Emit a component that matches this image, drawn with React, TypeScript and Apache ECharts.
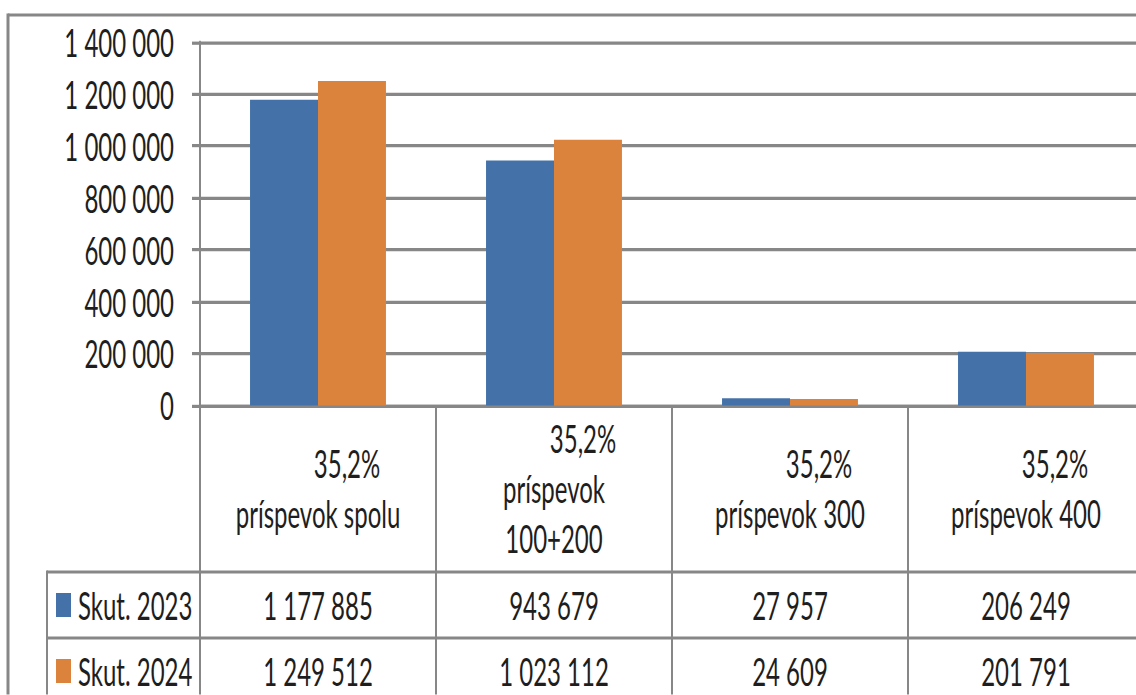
import React, { useEffect, useRef } from "react";
import * as echarts from "echarts";

const categories = ["príspevok spolu", "príspevok\n100+200", "príspevok 300", "príspevok 400"];
const rateLabel = "35,2%";
const seriesNames = ["Skut. 2023", "Skut. 2024"];
const values2023 = [1177885, 943679, 27957, 206249];
const values2024 = [1249512, 1023112, 24609, 201791];
const yMin = 0;
const yMax = 1400000;
const yInterval = 200000;

const colors = ["#4472A8", "#DB833D"];
const GREY = "#878787";
const TEXT = "#1e1e1e";
const FONT = "Lato";
const FS = 24;

const K = 1.6; // vertical stretch of the reference picture
const VIEW_W = 1136;
const W = 1160; // chart canvas is a bit wider than the view; the plot runs past the right edge
const H = 695 / K;
const ry = (v: number) => v / K;

const fmt = (n: number) => String(n).replace(/\B(?=(\d{3})+(?!\d))/g, " ");

export default function App() {
  const ref = useRef<HTMLDivElement>(null);
  useEffect(() => {
    if (!ref.current) return;
    const chart = echarts.init(ref.current, null, { renderer: "svg" });
    const gridTop = ry(42);
    const axisY = ry(406);
    const option: any = {
      animation: false,
      grid: { left: 200, right: W - 1144, top: gridTop, bottom: H - axisY },
      xAxis: {
        type: "category",
        data: categories,
        axisLine: { show: true, lineStyle: { color: GREY, width: 2 } },
        axisTick: { show: true, length: H - axisY + 20, lineStyle: { color: GREY, width: 2 } },
        splitLine: { show: false },
        axisLabel: {
          interval: 0,
          margin: ry(489) - axisY,
          verticalAlign: "middle",
          align: "center",
          formatter: (v: string) =>
            `{p|${rateLabel}}\n` + v.split("\n").map((s) => `{c|${s}}`).join("\n"),
          rich: {
            p: { fontFamily: FONT, fontSize: FS, color: TEXT, lineHeight: ry(50), padding: [0, 0, 0, 58] },
            c: { fontFamily: FONT, fontSize: FS, color: TEXT, lineHeight: ry(50) },
          },
        },
      },
      yAxis: {
        type: "value",
        min: yMin,
        max: yMax,
        interval: yInterval,
        axisLine: { show: true, lineStyle: { color: GREY, width: 2 } },
        axisTick: { show: true, length: 8, lineStyle: { color: GREY, width: 2 } },
        splitLine: { show: true, lineStyle: { color: GREY, width: 2 } },
        axisLabel: { formatter: (v: number) => fmt(v), margin: 26, fontFamily: FONT, fontSize: FS, color: TEXT },
      },
      series: [
        {
          name: seriesNames[0],
          type: "bar",
          data: values2023,
          barGap: "0%",
          barCategoryGap: "42.4%",
          itemStyle: { color: colors[0] },
        },
        {
          name: seriesNames[1],
          type: "bar",
          data: values2024,
          barGap: "0%",
          barCategoryGap: "42.4%",
          itemStyle: { color: colors[1] },
        },
      ],
    };
    chart.setOption(option);

    const xs = categories.map((_, i) => chart.convertToPixel({ xAxisIndex: 0 }, i) as number);
    const rowTop = ry(572);
    const rowMid = ry(638);
    const rowCenters = [ry(605), ry(671)];
    const rows = [values2023, values2024];
    const lineStyle = { stroke: GREY, lineWidth: 2 };
    const graphic: any[] = [
      { type: "line", shape: { x1: 8, y1: ry(15), x2: W + 20, y2: ry(15) }, style: lineStyle },
      { type: "line", shape: { x1: 8, y1: ry(15) - 1, x2: 8, y2: H + 20 }, style: { stroke: GREY, lineWidth: 3 } },
      { type: "line", shape: { x1: 47, y1: rowTop, x2: W + 20, y2: rowTop }, style: lineStyle },
      { type: "line", shape: { x1: 47, y1: rowMid, x2: W + 20, y2: rowMid }, style: lineStyle },
      { type: "line", shape: { x1: 47, y1: rowTop - 1, x2: 47, y2: H + 20 }, style: lineStyle },
    ];
    rows.forEach((vals, r) => {
      graphic.push({
        type: "rect",
        shape: { x: 56, y: rowCenters[r] - 7.5, width: 15, height: 15 },
        style: { fill: colors[r] },
      });
      graphic.push({
        type: "text",
        x: 78,
        y: rowCenters[r],
        style: {
          text: seriesNames[r],
          fontFamily: FONT,
          fontSize: FS,
          fill: TEXT,
          textAlign: "left",
          textVerticalAlign: "middle",
        },
      });
      vals.forEach((v, i) => {
        graphic.push({
          type: "text",
          x: xs[i],
          y: rowCenters[r],
          style: {
            text: fmt(v),
            fontFamily: FONT,
            fontSize: FS,
            fill: TEXT,
            textAlign: "center",
            textVerticalAlign: "middle",
          },
        });
      });
    });
    chart.setOption({ graphic });

    return () => chart.dispose();
  }, []);

  return (
    <div
      style={{
        position: "absolute",
        left: 0,
        top: 0,
        width: VIEW_W,
        height: 695,
        overflow: "hidden",
        background: "#fff",
      }}
    >
      <div
        ref={ref}
        style={{
          position: "absolute",
          left: 0,
          top: 0,
          width: W,
          height: H,
          transform: `scaleY(${K})`,
          transformOrigin: "0 0",
        }}
      />
    </div>
  );
}
